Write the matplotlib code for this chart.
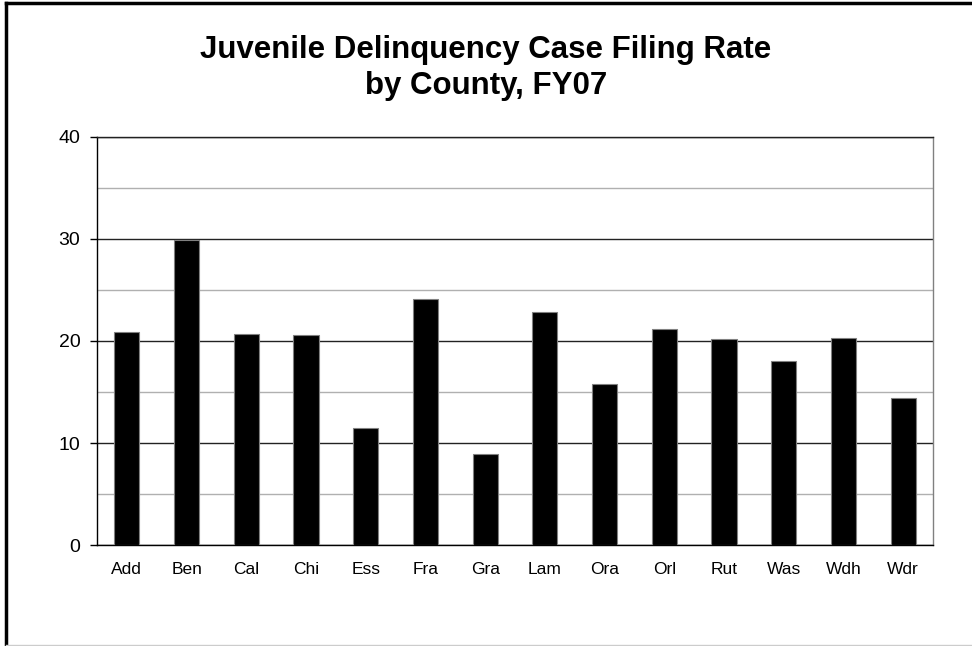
import matplotlib.pyplot as plt
from matplotlib.lines import Line2D

counties = ["Add", "Ben", "Cal", "Chi", "Ess", "Fra", "Gra",
            "Lam", "Ora", "Orl", "Rut", "Was", "Wdh", "Wdr"]
rates = [20.9, 29.9, 20.7, 20.6, 11.5, 24.1, 8.9,
         22.8, 15.8, 21.2, 20.2, 18.0, 20.3, 14.4]
y_ticks = [0, 10, 20, 30, 40]
y_minor = [5, 15, 25, 35]

plt.rcParams["font.family"] = ["Liberation Sans", "DejaVu Sans"]

fig = plt.figure(figsize=(9.72, 6.46), dpi=100)
ax = fig.add_axes([97 / 972, 1 - 545 / 646, 836 / 972, 408 / 646])

x = range(len(counties))
ax.bar(x, rates, width=0.42, color="black", edgecolor="#808080",
       linewidth=0.8, zorder=3)

ax.set_xlim(-0.5, len(counties) - 0.5)
ax.set_ylim(0, 40)
ax.set_yticks(y_ticks)
ax.set_yticks(y_minor, minor=True)
ax.set_xticks(list(x))
ax.set_xticklabels(counties, fontsize=12.5)
ax.tick_params(axis="y", which="major", labelsize=14, length=5, width=1,
               direction="out", pad=7)
ax.tick_params(axis="y", which="minor", length=0)
ax.tick_params(axis="x", length=0, pad=12)

ax.grid(axis="y", which="major", color="#222222", linewidth=1, zorder=1)
ax.grid(axis="y", which="minor", color="#b0b0b0", linewidth=1, zorder=1)
ax.set_axisbelow(True)

ax.spines["left"].set_color("black")
ax.spines["bottom"].set_color("black")
ax.spines["top"].set_color("#222222")
ax.spines["right"].set_color("#808080")
for s in ax.spines.values():
    s.set_linewidth(1)

fig.text(0.5, 1 - 68 / 646, "Juvenile Delinquency Case Filing Rate\nby County, FY07",
         ha="center", va="center", fontsize=22.5, fontweight="bold",
         linespacing=1.22)

# outer frame of the chart area
fig.add_artist(Line2D([6 / 972, 6 / 972], [0, 1 - 2.5 / 646],
                      transform=fig.transFigure, color="black", linewidth=2.5))
fig.add_artist(Line2D([6 / 972, 1], [1 - 2.5 / 646, 1 - 2.5 / 646],
                      transform=fig.transFigure, color="black", linewidth=2.5))
fig.add_artist(Line2D([6 / 972, 1], [1.5 / 646, 1.5 / 646],
                      transform=fig.transFigure, color="#cccccc", linewidth=1))

fig.savefig("out.png", dpi=100)
